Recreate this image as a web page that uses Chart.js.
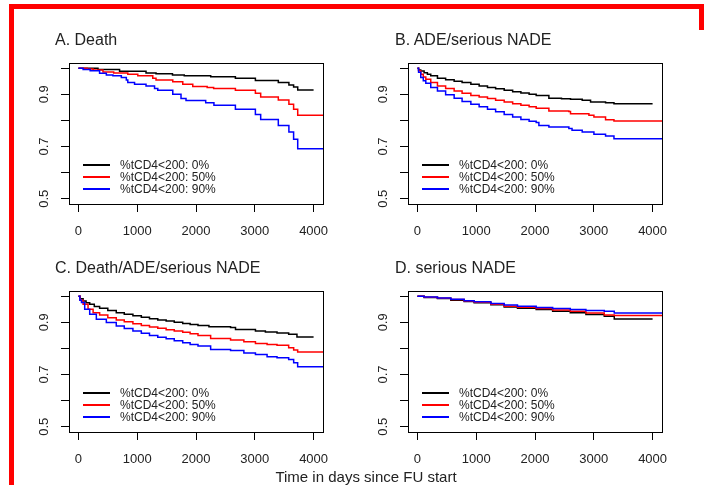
<!DOCTYPE html>
<html>
<head>
<meta charset="utf-8">
<script src="https://cdn.jsdelivr.net/npm/chart.js@4.4.0/dist/chart.umd.min.js"></script>
<style>
  body { margin: 0; background: #fff; width: 704px; height: 485px; overflow: hidden; position: relative;
         font-family: "Liberation Sans", Arial, sans-serif; color: #222; }
  canvas { position: absolute; }
  .title { position: absolute; font-size: 16px; line-height: 18px; white-space: nowrap; }
  .legend { position: absolute; font-size: 12px; line-height: 12px; }
  .legend .row { position: relative; height: 12px; }
  .legend .line { position: absolute; left: 0; top: 4.5px; width: 27px; height: 2.6px; }
  .legend .txt { position: absolute; left: 37px; top: 0; white-space: nowrap; }
  .frame { position: absolute; background: #ff0000; }
  .xlab { position: absolute; font-size: 15px; line-height: 18px; white-space: nowrap; transform: translateX(-50%); }
</style>
</head>
<body>

<div class="frame" style="left:9px; top:4px; width:695px; height:5px;"></div>
<div class="frame" style="left:9px; top:4px; width:5px; height:481px;"></div>
<div class="frame" style="left:699px; top:4px; width:5px; height:26px;"></div>

<canvas id="chartA" width="352" height="245" style="left:0; top:0;"></canvas>
<canvas id="chartB" width="352" height="245" style="left:352px; top:0;"></canvas>
<canvas id="chartC" width="352" height="240" style="left:0; top:245px;"></canvas>
<canvas id="chartD" width="352" height="240" style="left:352px; top:245px;"></canvas>

<div class="title" style="left:55px; top:31px;">A. Death</div>
<div class="title" style="left:395px; top:31px;">B. ADE/serious NADE</div>
<div class="title" style="left:55px; top:259px;">C. Death/ADE/serious NADE</div>
<div class="title" style="left:395px; top:259px;">D. serious NADE</div>

<div class="xlab" style="left:366px; top:468px;">Time in days since FU start</div>

<script>
// groups and colours
const groupLabels = ['%tCD4<200: 0%', '%tCD4<200: 50%', '%tCD4<200: 90%'];
const groupColors = ['#000000', '#ff0000', '#0000ff'];

// axis ticks
const xTickValues = [0, 1000, 2000, 3000, 4000];
const yTickValues = [0.5, 0.6, 0.7, 0.8, 0.9, 1.0];
const yTickLabels = ['0.5', '', '0.7', '', '0.9', ''];

// A. Death  -- [days, survival] at each step
const deathCD0 = [[0,1],[333,0.995],[700,0.988],[1150,0.982],[1320,0.979],[1600,0.974],[1800,0.971],
  [2250,0.967],[2670,0.962],[3010,0.953],[3400,0.945],[3580,0.936],[3660,0.928],[3730,0.917],[4000,0.917]];
const deathCD50 = [[0,1],[150,0.997],[250,0.993],[418,0.986],[600,0.982],[840,0.977],[1010,0.971],[1265,0.962],
  [1320,0.955],[1605,0.948],[1775,0.939],[1945,0.930],[2190,0.926],[2300,0.922],[2670,0.916],[3010,0.904],
  [3100,0.890],[3400,0.878],[3580,0.862],[3660,0.843],[3730,0.820],[4160,0.820]];
const deathCD90 = [[0,1],[80,0.995],[200,0.990],[360,0.981],[475,0.974],[587,0.971],[730,0.964],[815,0.955],
  [840,0.945],[955,0.939],[1150,0.932],[1295,0.922],[1350,0.916],[1605,0.900],[1745,0.884],[1830,0.876],
  [2165,0.868],[2305,0.858],[2670,0.843],[3010,0.823],[3100,0.804],[3400,0.781],[3580,0.756],[3660,0.728],
  [3730,0.692],[4160,0.692]];

// B. ADE/serious NADE
const adeCD0 = [[0,1],[20,0.993],[57,0.989],[114,0.983],[170,0.977],[227,0.971],[341,0.962],[480,0.956],
  [625,0.950],[760,0.945],[909,0.939],[1050,0.932],[1192,0.926],[1330,0.921],[1476,0.916],[1620,0.910],
  [1760,0.905],[1900,0.900],[2020,0.896],[2236,0.885],[2450,0.883],[2604,0.881],[2803,0.877],[2945,0.871],
  [3200,0.868],[3343,0.864],[4000,0.864]];
const adeCD50 = [[0,1],[20,0.990],[57,0.977],[100,0.966],[143,0.958],[227,0.945],[341,0.932],[480,0.922],
  [625,0.913],[760,0.904],[909,0.896],[1050,0.890],[1192,0.884],[1330,0.877],[1476,0.871],[1620,0.864],
  [1760,0.858],[1900,0.852],[2020,0.847],[2236,0.836],[2576,0.834],[2604,0.826],[2917,0.820],[3002,0.813],
  [3200,0.803],[3343,0.798],[4160,0.798]];
const adeCD90 = [[0,1],[20,0.985],[57,0.964],[100,0.952],[143,0.942],[227,0.926],[341,0.913],[480,0.898],
  [625,0.885],[760,0.873],[909,0.862],[1050,0.852],[1192,0.843],[1330,0.833],[1476,0.823],[1620,0.813],
  [1760,0.804],[1900,0.797],[2020,0.792],[2066,0.781],[2236,0.775],[2576,0.769],[2630,0.762],[2803,0.756],
  [3002,0.747],[3200,0.740],[3343,0.730],[4160,0.730]];

// C. Death/ADE/serious NADE
const anyCD0 = [[0,1],[30,0.990],[80,0.982],[130,0.975],[192,0.969],[270,0.961],[361,0.954],[500,0.945],
  [644,0.937],[780,0.931],[927,0.925],[1070,0.919],[1209,0.914],[1350,0.909],[1492,0.905],[1630,0.900],
  [1774,0.896],[1900,0.892],[2034,0.888],[2220,0.883],[2588,0.880],[2672,0.873],[3011,0.867],[3180,0.863],
  [3378,0.859],[3576,0.854],[3717,0.844],[4000,0.844]];
const anyCD50 = [[0,1],[30,0.985],[80,0.969],[164,0.950],[250,0.937],[361,0.928],[500,0.918],[644,0.909],
  [780,0.902],[927,0.895],[1070,0.888],[1209,0.882],[1350,0.877],[1492,0.872],[1630,0.867],[1774,0.862],
  [1900,0.856],[2034,0.850],[2249,0.838],[2588,0.832],[2814,0.826],[3011,0.819],[3209,0.815],[3378,0.812],
  [3576,0.803],[3661,0.794],[3729,0.786],[4160,0.786]];
const anyCD90 = [[0,1],[25,0.985],[52,0.976],[107,0.950],[192,0.931],[305,0.912],[475,0.899],[644,0.886],
  [780,0.876],[927,0.867],[1070,0.858],[1209,0.850],[1350,0.843],[1492,0.837],[1630,0.829],[1774,0.822],
  [1900,0.815],[2034,0.809],[2249,0.796],[2588,0.792],[2814,0.783],[3011,0.777],[3209,0.768],[3378,0.764],
  [3576,0.758],[3661,0.745],[3729,0.730],[4160,0.730]];

// D. serious NADE
const nadeCD0 = [[0,1],[114,0.995],[341,0.991],[568,0.985],[795,0.980],[965,0.975],[1249,0.967],[1476,0.959],
  [1702,0.954],[2020,0.949],[2300,0.942],[2600,0.937],[2866,0.930],[3178,0.923],[3348,0.913],[4000,0.913]];
const nadeCD50 = [[0,1],[114,0.996],[341,0.992],[568,0.987],[795,0.982],[965,0.977],[1249,0.969],[1476,0.962],
  [1702,0.958],[2020,0.953],[2300,0.947],[2600,0.942],[2866,0.936],[3178,0.928],[3348,0.926],[4160,0.926]];
const nadeCD90 = [[0,1],[114,0.997],[341,0.993],[568,0.988],[795,0.983],[965,0.979],[1249,0.972],[1476,0.966],
  [1702,0.962],[2020,0.957],[2300,0.953],[2600,0.949],[2866,0.945],[3178,0.942],[3348,0.936],[4160,0.936]];

// draw the full box around the plot region (like R's box())
const boxPlugin = {
    id: 'box',
    afterDatasetsDraw(chart) {
        const a = chart.chartArea;
        const ctx = chart.ctx;
        ctx.save();
        ctx.strokeStyle = '#000';
        ctx.lineWidth = 1;
        ctx.strokeRect(Math.round(a.left) + 0.5, Math.round(a.top) + 0.5,
            Math.round(a.right - a.left), Math.round(a.bottom - a.top));
        ctx.restore();
    }
};

function makePanel(id, series, layout) {
    const ctx = document.getElementById(id).getContext('2d');
    const datasets = series.map((s, i) => ({
        label: groupLabels[i],
        data: s.map(p => ({ x: p[0], y: p[1] })),
        borderColor: groupColors[i],
        borderWidth: 1.5,
        stepped: 'before',
        pointRadius: 0,
        fill: false,
        order: 3 - i // blue on top
    }));

    return new Chart(ctx, {
        type: 'line',
        data: { datasets },
        plugins: [boxPlugin],
        options: {
            responsive: false,
            animation: false,
            devicePixelRatio: 1,
            layout: { padding: { top: layout.top, right: layout.right, left: 0, bottom: 0 } },
            plugins: { legend: { display: false }, tooltip: { enabled: false } },
            scales: {
                x: {
                    type: 'linear',
                    min: -160,
                    max: 4160,
                    afterBuildTicks: axis => { axis.ticks = xTickValues.map(v => ({ value: v })); },
                    afterFit: axis => { axis.height = layout.xHeight; },
                    border: { display: false },
                    grid: { drawOnChartArea: false, drawTicks: true, tickLength: 8, color: '#000', tickColor: '#000' },
                    ticks: {
                        autoSkip: false, maxRotation: 0, padding: 12,
                        color: '#222', font: { family: 'Liberation Sans', size: 13 },
                        callback: v => String(v)
                    }
                },
                y: {
                    type: 'linear',
                    min: 0.48,
                    max: 1.02,
                    afterBuildTicks: axis => { axis.ticks = yTickValues.map(v => ({ value: v })); },
                    afterFit: axis => { axis.width = layout.yWidth; },
                    border: { display: false },
                    grid: { drawOnChartArea: false, drawTicks: true, tickLength: 8, color: '#000', tickColor: '#000' },
                    ticks: {
                        autoSkip: false, minRotation: 90, maxRotation: 90, padding: 8,
                        crossAlign: 'center',
                        color: '#222', font: { family: 'Liberation Sans', size: 13 },
                        callback: (v, i) => yTickLabels[i]
                    }
                }
            }
        }
    });
}

// legend boxes, built from the same groups
function makeLegend(left, top) {
    const box = document.createElement('div');
    box.className = 'legend';
    box.style.left = left + 'px';
    box.style.top = top + 'px';
    groupLabels.forEach((lab, i) => {
        const row = document.createElement('div');
        row.className = 'row';
        const line = document.createElement('div');
        line.className = 'line';
        line.style.background = groupColors[i];
        const txt = document.createElement('span');
        txt.className = 'txt';
        txt.textContent = lab;
        row.appendChild(line);
        row.appendChild(txt);
        box.appendChild(row);
    });
    document.body.appendChild(box);
}

makePanel('chartA', [deathCD0, deathCD50, deathCD90], { top: 63, right: 29, yWidth: 69, xHeight: 41 });
makePanel('chartB', [adeCD0, adeCD50, adeCD90], { top: 63, right: 42, yWidth: 56, xHeight: 41 });
makePanel('chartC', [anyCD0, anyCD50, anyCD90], { top: 46, right: 29, yWidth: 69, xHeight: 53 });
makePanel('chartD', [nadeCD0, nadeCD50, nadeCD90], { top: 46, right: 42, yWidth: 56, xHeight: 53 });

makeLegend(83, 159);
makeLegend(422, 159);
makeLegend(83, 387);
makeLegend(422, 387);
</script>
</body>
</html>
